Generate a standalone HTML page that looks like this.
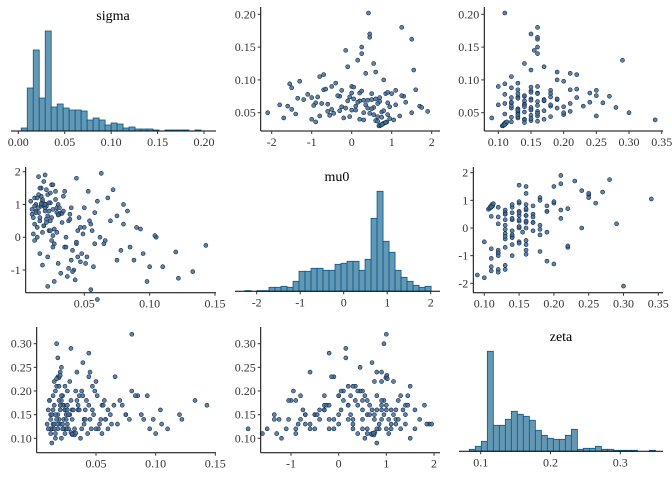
<!DOCTYPE html>
<html><head><meta charset="utf-8"><style>
html,body{margin:0;padding:0;background:#fff;}
svg{display:block;font-family:"Liberation Serif",serif;}
</style></head><body>
<svg id="c" width="672" height="480" viewBox="0 0 672 480" xmlns="http://www.w3.org/2000/svg"></svg>
<script>
// ---- posterior draws (lower-triangle chains) ----
const sigma=[.012,.015,.018,.020,.022,.025,.014,.017,.021,.024,
.010,.013,.016,.019,.023,.026,.028,.011,.015,.020,
.012,.018,.022,.027,.030,.014,.017,.021,.025,.029,
.009,.016,.019,.024,.031,.013,.018,.023,.026,.033,
.011,.015,.020,.022,.027,.035,.012,.017,.024,.030,
.030,.031,.032,.029,.030,.033,.018,.019,.020,.017,
.035,.038,.042,.045,.048,.050,.036,.040,.044,.047,
.052,.055,.058,.060,.039,.043,.049,.053,.057,.062,
.034,.041,.046,.051,.056,.063,.066,.037,.044,.054,
.070,.075,.080,.085,.090,.095,.100,.105,.110,.072,
.078,.083,.088,.093,.098,.104,.120,.122,.133,.143,
.010,.014,.016,.021,.025,.028,.012,.019,.023,.026,
.015,.020,.024,.032,.036,.040,.045,.050,.065,.075,
.022,.027,.041,.038,.047,.055,.060,.018,.029,.034,
.016,.021,.026,.031,.039,.044,.058,.068,.080,.013];
const mu0=[1.2,0.9,1.1,0.8,1.3,0.6,0.3,1.5,0.95,1.05,
0.7,1.0,0.5,1.7,0.2,0.85,1.4,0.1,0.75,1.9,
0.4,1.15,0.65,-0.2,1.0,0.0,1.25,0.55,1.6,0.9,
1.1,-0.5,0.35,1.35,0.7,0.8,0.15,1.05,-0.3,0.45,
0.6,1.3,0.9,-0.6,0.25,1.4,-0.1,0.95,0.5,-0.8,
0.70,0.72,0.74,0.76,0.68,0.73,1.00,0.99,1.01,1.02,
-0.3,0.5,-1.0,0.2,-0.5,0.9,0.0,-0.7,1.8,0.3,
-0.6,0.4,-0.2,1.1,0.7,-1.3,0.1,1.4,-0.9,0.0,
0.8,-0.4,0.6,-0.8,0.2,1.95,-0.1,-1.2,-0.2,0.5,
0.5,-0.7,1.0,-0.3,0.3,-0.5,-0.9,0.0,-0.9,1.45,
-0.4,0.8,-0.7,0.25,-1.35,0.05,-0.45,-1.25,-1.05,-0.25,
0.85,1.2,0.6,1.45,-0.1,1.15,0.95,0.35,0.8,1.6,
1.85,1.0,0.2,-1.1,-0.3,0.9,-0.6,0.3,-0.2,0.65,
-1.5,-1.35,-1.05,-0.95,-0.75,-1.6,-1.9,-0.85,0.15,1.25,
1.5,0.45,0.05,0.9,0.55,-0.15,0.75,1.2,0.4,0.75];
const zeta=[.14,.17,.12,.16,.19,.15,.13,.21,.18,.11,
.16,.12,.20,.14,.17,.13,.15,.18,.22,.13,
.11,.15,.17,.12,.16,.19,.14,.10,.12,.18,
.13,.15,.21,.16,.11,.09,.27,.14,.17,.20,
.18,.12,.24,.13,.15,.17,.12,.30,.16,.14,
.108,.110,.107,.112,.109,.111,.230,.228,.233,.226,
.16,.12,.18,.14,.15,.22,.19,.13,.17,.21,
.12,.17,.14,.16,.26,.11,.20,.13,.18,.15,
.24,.16,.12,.19,.17,.13,.23,.10,.28,.14,
.18,.15,.32,.19,.14,.12,.11,.13,.12,.17,
.14,.19,.15,.19,.14,.16,.15,.14,.18,.17,
.12,.16,.11,.19,.14,.22,.15,.18,.12,.16,
.13,.17,.21,.12,.16,.14,.24,.12,.17,.15,
.12,.15,.14,.20,.16,.11,.12,.13,.29,.18,
.10,.25,.20,.16,.19,.23,.14,.13,.20,.15];
// ---- posterior draws (upper-triangle chains) ----
const sigmaU=[.030,.031,.032,.033,.030,.034,.031,.035,.032,.036,
.040,.045,.050,.055,.060,.065,.070,.075,.080,.085,
.038,.042,.047,.052,.057,.062,.068,.073,.078,.083,
.090,.095,.100,.105,.110,.115,.120,.125,.130,.088,
.140,.145,.150,.162,.165,.170,.180,.202,.098,.108,
.045,.050,.055,.060,.065,.070,.075,.080,.085,.090,
.042,.048,.053,.058,.063,.068,.073,.079,.084,.089,
.036,.039,.044,.049,.054,.059,.064,.069,.074,.079,
.040,.046,.051,.056,.061,.066,.071,.076,.081,.086,
.050,.052,.058,.060,.062,.066,.072,.076,.094,.112,
.035,.037,.041,.043,.047,.053,.057,.062,.067,.071,
.039,.044,.049,.054,.059,.064,.069,.074,.079,.084];
const mu0U=[.70,.72,.75,.78,.68,.80,.73,.85,.76,.88,
-1.0,-0.8,0.3,-0.5,0.1,-0.9,0.5,-0.3,0.2,-0.7,
0.6,-0.2,0.9,-0.6,0.4,1.1,-0.1,0.7,-1.1,0.25,
0.0,-0.4,0.8,-0.8,0.35,1.55,-0.1,0.55,0.15,-1.5,
0.25,-0.15,0.25,1.5,0.45,0.45,1.25,0.42,-1.3,-0.7,
1.2,1.5,-1.5,1.7,0.9,-1.2,1.3,0.0,1.6,-0.5,
-1.7,-1.4,-0.3,0.55,-0.6,0.2,-1.0,0.85,-0.25,0.05,
-0.9,0.3,0.65,-0.45,0.0,0.95,-0.75,0.4,-0.05,1.0,
0.2,-0.55,0.75,0.5,-0.95,0.15,0.6,-0.35,0.9,-0.65,
-2.1,1.9,1.75,-1.6,-1.8,1.35,-1.35,1.25,-1.55,0.6,
0.85,0.65,0.95,0.75,0.55,0.8,-0.15,0.35,0.7,0.05,
1.05,-0.05,0.45,0.1,-0.25,0.65,0.3,-0.85,0.5,1.1];
const zetaU=[.107,.108,.110,.109,.106,.112,.108,.111,.110,.113,
.14,.16,.13,.15,.18,.12,.17,.14,.16,.13,
.15,.13,.20,.16,.12,.18,.14,.22,.11,.15,
.16,.13,.19,.12,.21,.15,.17,.14,.29,.12,
.16,.155,.16,.16,.16,.15,.16,.11,.20,.22,
.25,.20,.13,.23,.26,.19,.27,.24,.21,.10,
.09,.11,.13,.15,.14,.17,.12,.16,.18,.15,
.12,.14,.13,.16,.15,.20,.11,.17,.13,.18,
.17,.15,.14,.13,.16,.12,.19,.14,.15,.22,
.30,.21,.28,.12,.10,.24,.13,.25,.11,.19,
.14,.16,.15,.12,.13,.17,.19,.14,.16,.15,
.34,.18,.16,.13,.14,.21,.15,.18,.13,.25];
// ---- histogram bins ----
const sigmaCounts=[3,43,81,33,100,24,27,23,21,21,20,11,13,11,6,8,7,3,4,2,2,2,1,0,1,1,1,1,0,1];
const sigmaBin={start:0.0032,width:0.00645};
const mu0Counts=[2,0,2,2,12,12,15,12,30,60,60,69,69,63,63,81,84,90,90,63,96,219,300,150,117,63,42,30,18,12,15];
const mu0Bin={start:-2.269,width:0.138};
const zetaCounts=[6,15,30,300,78,78,96,120,111,105,93,63,48,39,36,36,48,66,6,9,9,15,6,6,3,3,3,3,0,0,3];
const zetaBin={start:0.0837,width:0.0086};
// ---- tick labels ----
const sigmaTicksHist=["0.00","0.05","0.10","0.15","0.20"];
const sigmaTicks=["0.05","0.10","0.15"];
const sigmaTicksY=["0.05","0.10","0.15","0.20"];
const mu0TicksHist=["-2","-1","0","1","2"];
const mu0TicksY=["-1","0","1","2"];
const mu0TicksY2=["-2","-1","0","1","2"];
const mu0TicksX3=["-1","0","1","2"];
const zetaTicksHist=["0.1","0.2","0.3"];
const zetaTicksX=["0.10","0.15","0.20","0.25","0.30","0.35"];
const zetaTicksY=["0.10","0.15","0.20","0.25","0.30"];

const NS="http://www.w3.org/2000/svg";
const svg=document.getElementById('c');
function el(t,a,p){const e=document.createElementNS(NS,t);for(const k in a)e.setAttribute(k,a[k]);(p||svg).appendChild(e);return e;}
function lin(v0,p0,v1,p1){return v=>p0+(v-v0)*(p1-p0)/(v1-v0);}
function txt(g,x,y,s,anchor,size,fill){const t=el('text',{x:x,y:y,'text-anchor':anchor,'font-size':size,fill:fill||'#333'},g);t.textContent=s;return t;}

function xAxis(g,sx,x0,x1,y,ticks){
  const a=el('line',{x1:x0,x2:x1,y1:y,y2:y,stroke:'#000','stroke-width':1},g);
  
  
  ticks.forEach(t=>{const x=sx(parseFloat(t));
    el('line',{x1:x,x2:x,y1:y,y2:y+3,stroke:'#333','stroke-width':1},g);
    const l=txt(g,x,y+15,t,'middle',12);
    
    });
}
function yAxis(g,sy,x,y0,y1,ticks){
  const a=el('line',{x1:x,x2:x,y1:y0,y2:y1,stroke:'#000','stroke-width':1},g);
  
  
  ticks.forEach(t=>{const y=sy(parseFloat(t));
    el('line',{x1:x-3,x2:x,y1:y,y2:y,stroke:'#333','stroke-width':1},g);
    const l=txt(g,x-5,y+4,t,'end',12);
    
    });
}
function hist(name,title,counts,bin,sx,base,x0,x1,ticks,tx,ty){
  const g=el('g',{});
  
  
  const mx=Math.max(...counts);
  counts.forEach((c,i)=>{if(c<=0)return;
    const xa=sx(bin.start+i*bin.width),xb=sx(bin.start+(i+1)*bin.width),h=c/mx*100;
    const r=el('rect',{x:xa,y:base-h,width:xb-xa,height:h,fill:'#6497b1',stroke:'#005b96','stroke-width':0.8},g);
    
    });
  xAxis(g,sx,x0,x1,base,ticks);
  const t=txt(g,tx,ty,title,'middle',14,'#000');
  
  
}
function scatter(name,xs,ys,sx,sy,ax,ay0,ay1,ax1,xt,yt){
  const g=el('g',{});
  
  
  xs.forEach((v,i)=>{
    const c=el('circle',{cx:sx(v),cy:sy(ys[i]),r:2,fill:'#4a6d91','fill-opacity':0.85,stroke:'#0b2a4f','stroke-width':0.6},g);
    
    });
  xAxis(g,sx,ax,ax1,ay1,xt);
  yAxis(g,sy,ax,ay0,ay1,yt);
}
// diagonal
hist('sigma-histogram','sigma',sigmaCounts,sigmaBin,lin(0,18.3,0.2,204),131,11,216,sigmaTicksHist,113,20);
hist('mu0-histogram','mu0',mu0Counts,mu0Bin,lin(-2,256.7,2,430.7),291.3,235,440,mu0TicksHist,337,181);
hist('zeta-histogram','zeta',zetaCounts,zetaBin,lin(0.1,480.7,0.3,620.3),451.3,459,663,zetaTicksHist,561,341);
// row 1 (upper)
const syS=lin(0.05,112.7,0.20,14.3);
scatter('scatter-mu0-sigma',mu0U,sigmaU,lin(-2,271.7,2,431.7),syS,260.7,7,131,440,mu0TicksHist,sigmaTicksY);
scatter('scatter-zeta-sigma',zetaU,sigmaU,lin(0.10,498.3,0.35,661.7),syS,484.3,7,131,663,zetaTicksX,sigmaTicksY);
// row 2
scatter('scatter-sigma-mu0',sigma,mu0,lin(0.05,84.3,0.15,215),lin(2,171.7,-1,270),25.7,167,292.7,216,sigmaTicks,mu0TicksY);
scatter('scatter-zeta-mu0',zetaU,mu0U,lin(0.10,484.3,0.35,658.3),lin(2,172.7,-2,283.3),473.3,167,292.7,663,zetaTicksX,mu0TicksY2);
// row 3
const syZ=lin(0.30,343.7,0.10,438.3);
scatter('scatter-sigma-zeta',sigma,zeta,lin(0.05,96,0.15,215.3),syZ,36.7,327,452.7,216,sigmaTicks,zetaTicksY);
scatter('scatter-mu0-zeta',mu0,zeta,lin(-1,291,2,434),syZ,260.7,327,452.7,440,mu0TicksX3,zetaTicksY);
</script>
</body></html>
